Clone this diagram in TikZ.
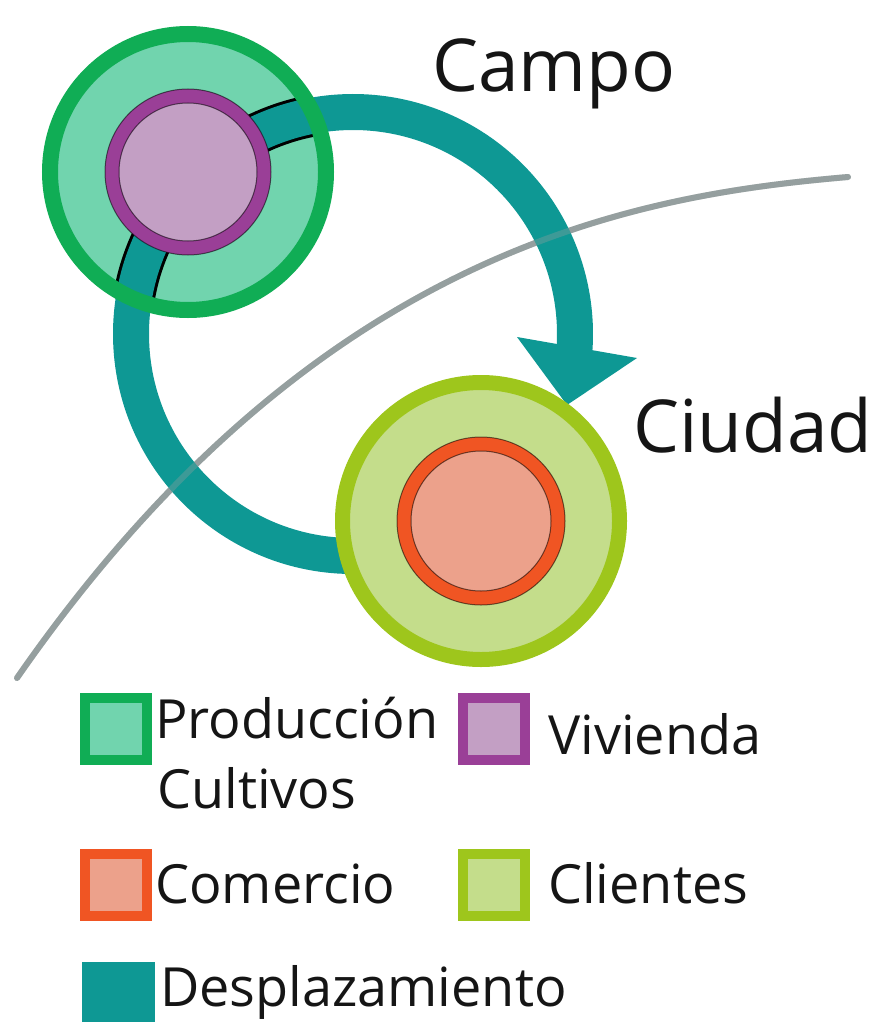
\documentclass[tikz,border=0pt]{standalone}
\usepackage{fontspec}
\setmainfont{Open Sans}
\usetikzlibrary{calc}
\definecolor{bandteal}{HTML}{0E9894}
\definecolor{gring}{HTML}{10AD55}
\definecolor{mint}{HTML}{71D4AE}
\definecolor{pring}{HTML}{9A3F97}
\definecolor{pfill}{HTML}{C39FC4}
\definecolor{lring}{HTML}{9EC61C}
\definecolor{lfill}{HTML}{C4DD8B}
\definecolor{oring}{HTML}{F05523}
\definecolor{ofill}{HTML}{ECA18B}
\definecolor{roadgray}{HTML}{959F9F}
\definecolor{txt}{HTML}{151515}
\begin{document}
\begin{tikzpicture}[x=1pt,y=-1pt,
  lbl/.style={inner sep=0pt,anchor=base west,text=txt},
  big/.style={lbl,font=\fontsize{73}{73}\selectfont},
  leg/.style={lbl,font=\fontsize{54}{54}\selectfont},
  legsq/.style={draw,line width=10pt,minimum size=62pt,inner sep=0pt},
  road/.style={roadgray,line width=6pt,line cap=round},
  edge/.style={black,line width=1pt,opacity=.55}]
\useasboundingbox (0,0) rectangle (871,1022);
\coordinate (campo) at (188,172);
\coordinate (ciudad) at (481,521);
\coordinate (loopc) at (353,334);
\coordinate (rA) at (17,678);
\coordinate (rB) at (848,177);
% road line
\draw[road] (rA) .. controls (317,246) and (640,195) .. (rB);
% displacement loop
\draw[bandteal,line width=36pt] ($(loopc)+(88:222)$) arc[start angle=88,end angle=364,radius=222];
\fill[bandteal] (517,337) -- (637,358) -- (567,405) -- cycle;
\draw[road,opacity=.35] (rA) .. controls (317,246) and (640,195) .. (rB);
% campo
\fill[mint] (campo) circle[radius=140];
\begin{scope}
  \clip (campo) circle[radius=140];
  \draw[black,line width=42pt] ($(loopc)+(88:222)$) arc[start angle=88,end angle=364,radius=222];
  \draw[bandteal,line width=36pt] ($(loopc)+(88:222)$) arc[start angle=88,end angle=364,radius=222];
\end{scope}
\draw[gring,line width=16pt] (campo) circle[radius=138];
\draw[pring,fill=pfill,line width=14pt] (campo) circle[radius=76];
\draw[edge] (campo) circle[radius=83] (campo) circle[radius=69];
% ciudad
\draw[lring,fill=lfill,line width=15pt] (ciudad) circle[radius=138.5];
\draw[oring,fill=ofill,line width=14pt] (ciudad) circle[radius=77];
\draw[edge] (ciudad) circle[radius=84] (ciudad) circle[radius=70];
% titles
\node[big] (tcampo) at (432,92) {Campo};
\node[big] (tciudad) at (633,452) {Ciudad};
% legend
\node[legsq,draw=gring,fill=mint] (sqprod) at (116,729) {};
\node[leg] (tprod) at (155,738) {Producción};
\node[leg] (tcult) at (157,808) {Cultivos};
\node[legsq,draw=pring,fill=pfill] (sqviv) at (494,729) {};
\node[leg] (tviv) at (548,754) {Vivienda};
\node[legsq,draw=oring,fill=ofill] (sqcom) at (116,885) {};
\node[leg] (tcom) at (155,903) {Comercio};
\node[legsq,draw=lring,fill=lfill] (sqcli) at (494,885) {};
\node[leg] (tcli) at (548,903) {Clientes};
\node[fill=bandteal,minimum width=73pt,minimum height=60pt,inner sep=0pt,anchor=north west] (sqdesp) at (82,962) {};
\node[leg,font=\fontsize{54}{54}\selectfont] (tdesp) at (160,1006) {Desplazamiento};
\end{tikzpicture}
\end{document}
